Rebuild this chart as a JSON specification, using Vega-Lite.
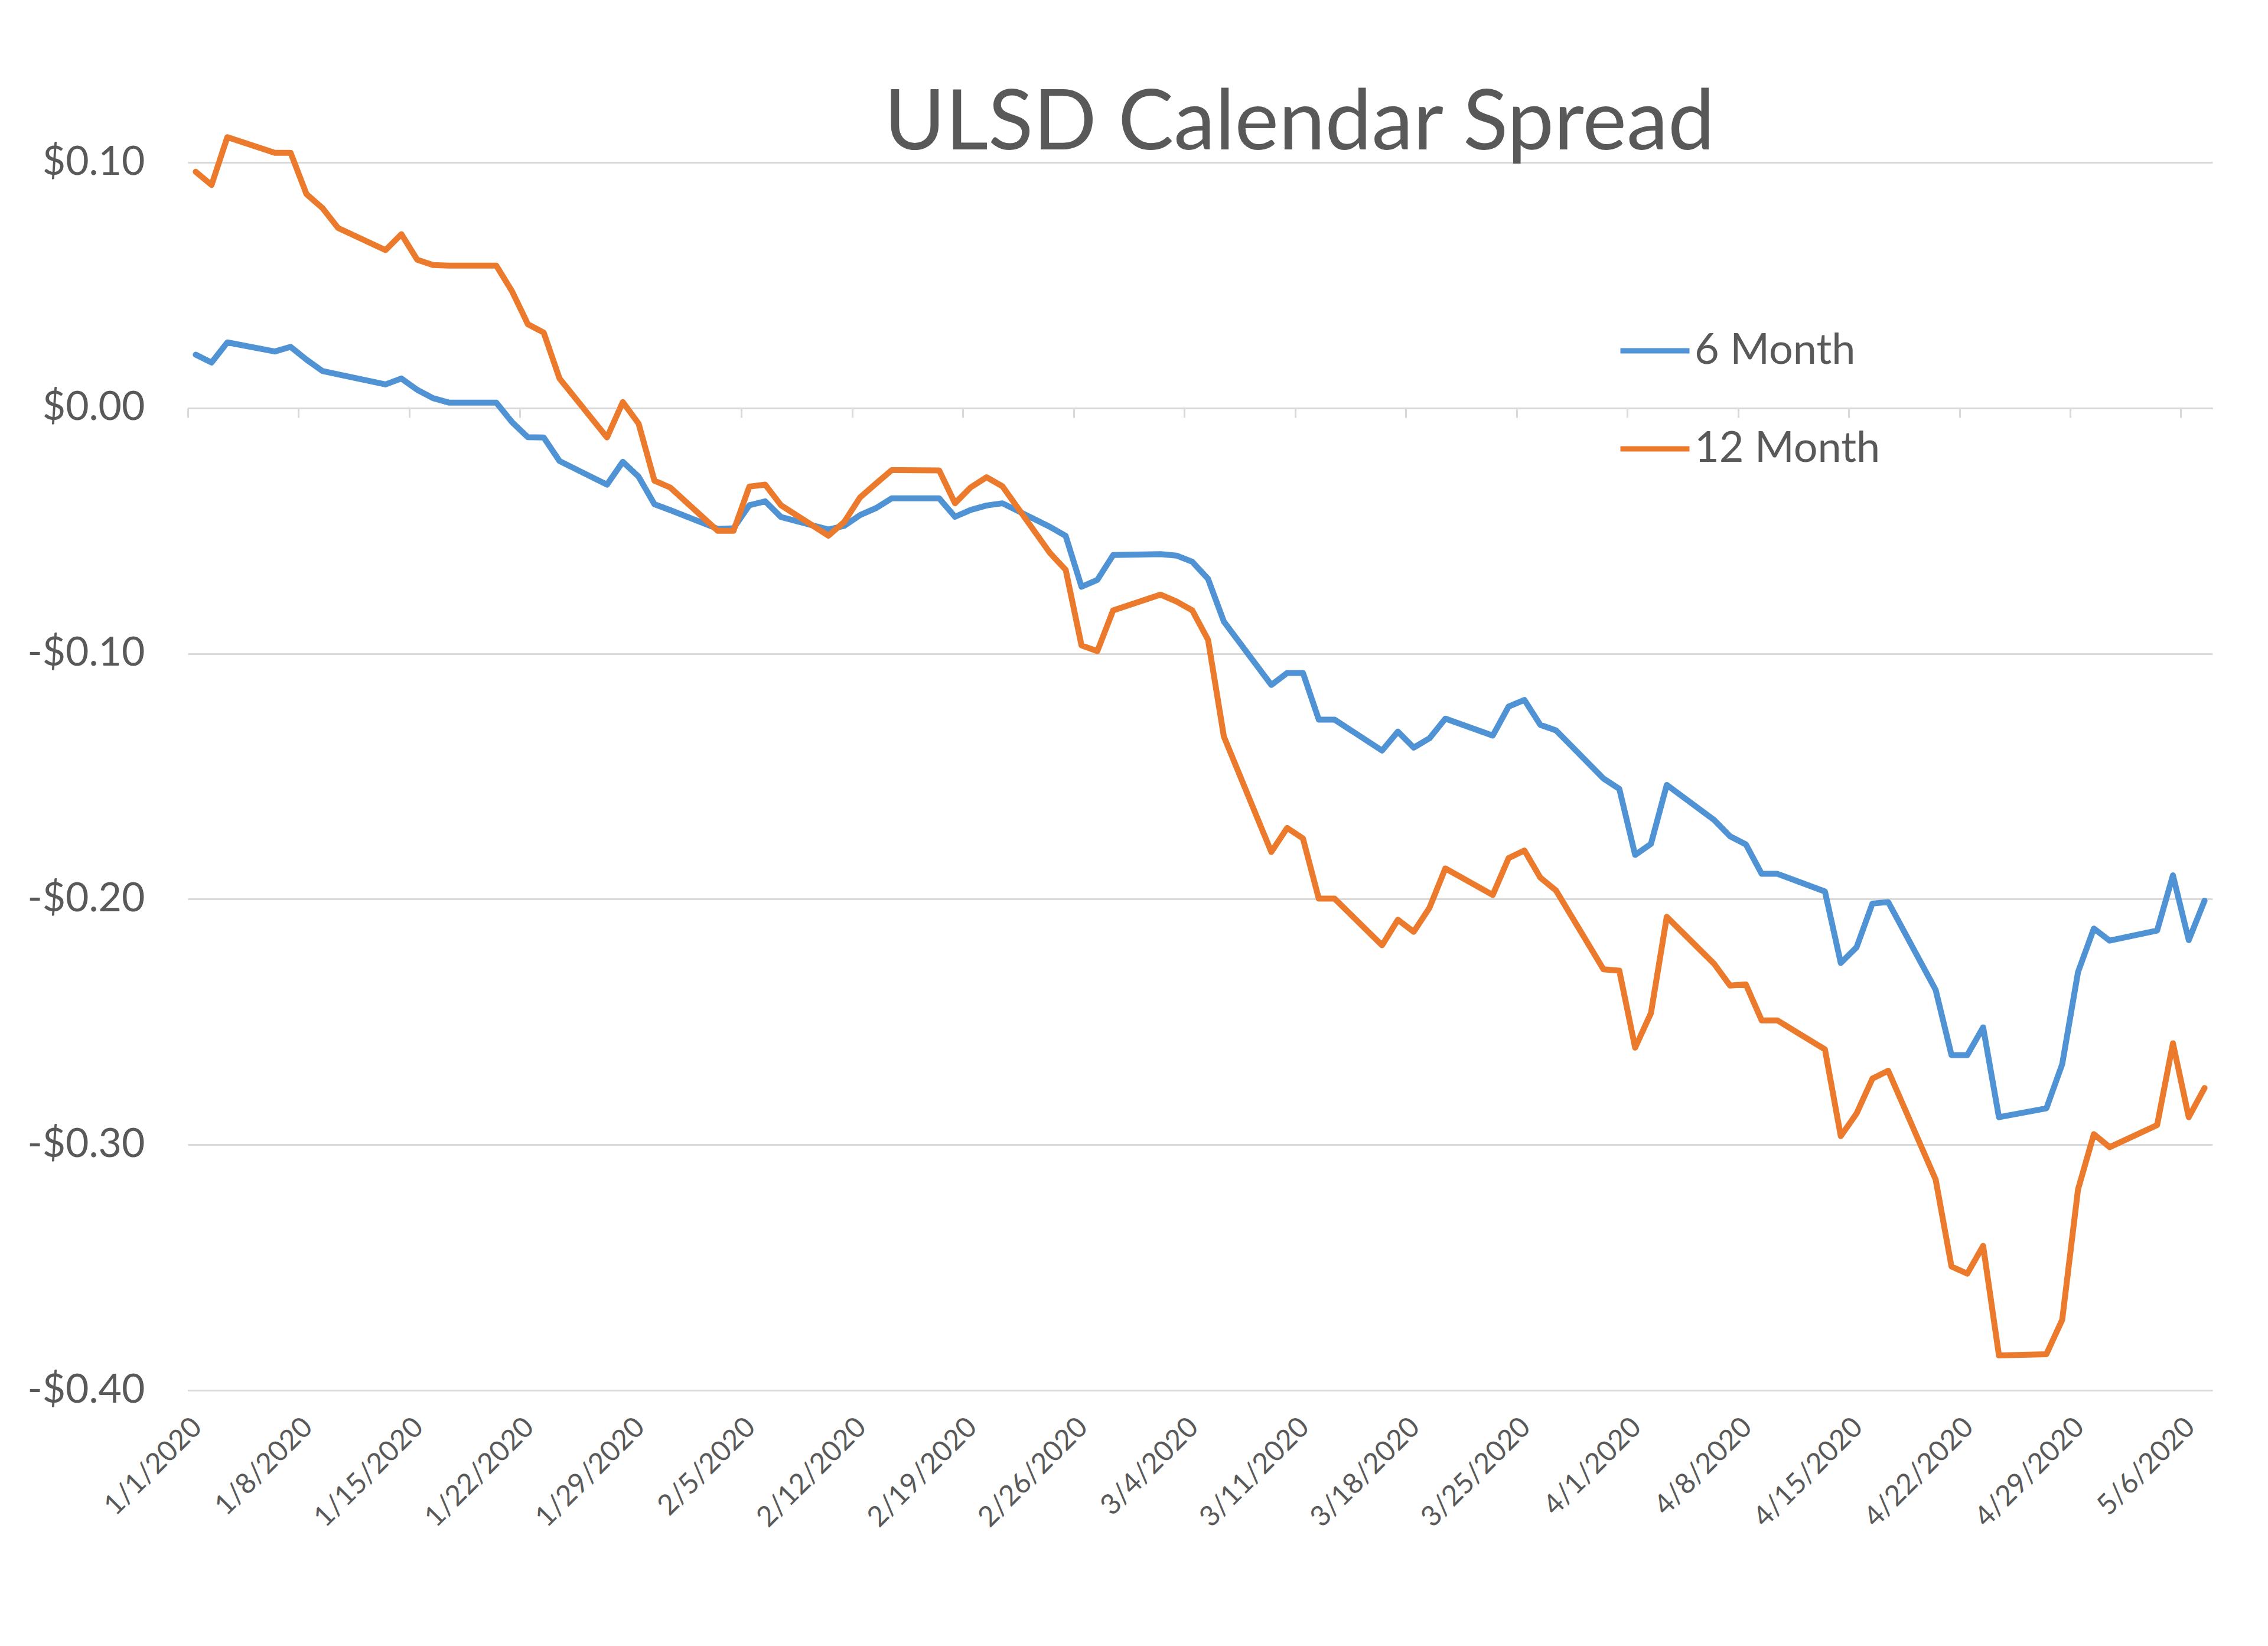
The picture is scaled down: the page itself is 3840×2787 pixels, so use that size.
{
  "$schema": "https://vega.github.io/schema/vega-lite/v6.json",
  "width": 3428,
  "height": 2079,
  "autosize": {"type": "none"},
  "padding": {"left": 318, "top": 275, "right": 94, "bottom": 433},
  "background": "white",
  "config": {"view": {"stroke": null}, "font": "Lato"},
  "title": {"text": "ULSD Calendar Spread", "font": "Lato", "fontSize": 141, "fontWeight": "normal", "color": "#595959", "anchor": "middle", "frame": "group", "dx": 168, "dy": 56, "offset": 0},
  "data": {"values": [
    {"date": "2020-01-01", "6 Month": 0.0217, "12 Month": 0.0962},
    {"date": "2020-01-02", "6 Month": 0.0185, "12 Month": 0.0908},
    {"date": "2020-01-03", "6 Month": 0.0267, "12 Month": 0.1103},
    {"date": "2020-01-06", "6 Month": 0.0230, "12 Month": 0.1039},
    {"date": "2020-01-07", "6 Month": 0.0249, "12 Month": 0.1039},
    {"date": "2020-01-08", "6 Month": 0.0197, "12 Month": 0.0871},
    {"date": "2020-01-09", "6 Month": 0.0151, "12 Month": 0.0815},
    {"date": "2020-01-10", "6 Month": 0.0137, "12 Month": 0.0733},
    {"date": "2020-01-13", "6 Month": 0.0096, "12 Month": 0.0643},
    {"date": "2020-01-14", "6 Month": 0.0120, "12 Month": 0.0708},
    {"date": "2020-01-15", "6 Month": 0.0074, "12 Month": 0.0604},
    {"date": "2020-01-16", "6 Month": 0.0040, "12 Month": 0.0582},
    {"date": "2020-01-17", "6 Month": 0.0022, "12 Month": 0.0580},
    {"date": "2020-01-20", "6 Month": 0.0022, "12 Month": 0.0580},
    {"date": "2020-01-21", "6 Month": -0.0058, "12 Month": 0.0475},
    {"date": "2020-01-22", "6 Month": -0.0119, "12 Month": 0.0341},
    {"date": "2020-01-23", "6 Month": -0.0120, "12 Month": 0.0307},
    {"date": "2020-01-24", "6 Month": -0.0216, "12 Month": 0.0120},
    {"date": "2020-01-27", "6 Month": -0.0312, "12 Month": -0.0120},
    {"date": "2020-01-28", "6 Month": -0.0219, "12 Month": 0.0024},
    {"date": "2020-01-29", "6 Month": -0.0280, "12 Month": -0.0064},
    {"date": "2020-01-30", "6 Month": -0.0392, "12 Month": -0.0296},
    {"date": "2020-01-31", "6 Month": -0.0416, "12 Month": -0.0324},
    {"date": "2020-02-03", "6 Month": -0.0492, "12 Month": -0.0500},
    {"date": "2020-02-04", "6 Month": -0.0490, "12 Month": -0.0500},
    {"date": "2020-02-05", "6 Month": -0.0396, "12 Month": -0.0320},
    {"date": "2020-02-06", "6 Month": -0.0380, "12 Month": -0.0312},
    {"date": "2020-02-07", "6 Month": -0.0444, "12 Month": -0.0396},
    {"date": "2020-02-10", "6 Month": -0.0495, "12 Month": -0.0520},
    {"date": "2020-02-11", "6 Month": -0.0480, "12 Month": -0.0464},
    {"date": "2020-02-12", "6 Month": -0.0436, "12 Month": -0.0364},
    {"date": "2020-02-13", "6 Month": -0.0408, "12 Month": -0.0308},
    {"date": "2020-02-14", "6 Month": -0.0368, "12 Month": -0.0253},
    {"date": "2020-02-17", "6 Month": -0.0368, "12 Month": -0.0254},
    {"date": "2020-02-18", "6 Month": -0.0443, "12 Month": -0.0388},
    {"date": "2020-02-19", "6 Month": -0.0415, "12 Month": -0.0323},
    {"date": "2020-02-20", "6 Month": -0.0397, "12 Month": -0.0282},
    {"date": "2020-02-21", "6 Month": -0.0388, "12 Month": -0.0319},
    {"date": "2020-02-24", "6 Month": -0.0484, "12 Month": -0.0590},
    {"date": "2020-02-25", "6 Month": -0.0521, "12 Month": -0.0659},
    {"date": "2020-02-26", "6 Month": -0.0728, "12 Month": -0.0967},
    {"date": "2020-02-27", "6 Month": -0.0700, "12 Month": -0.0990},
    {"date": "2020-02-28", "6 Month": -0.0599, "12 Month": -0.0824},
    {"date": "2020-03-02", "6 Month": -0.0595, "12 Month": -0.0760},
    {"date": "2020-03-03", "6 Month": -0.0601, "12 Month": -0.0788},
    {"date": "2020-03-04", "6 Month": -0.0626, "12 Month": -0.0824},
    {"date": "2020-03-05", "6 Month": -0.0696, "12 Month": -0.0944},
    {"date": "2020-03-06", "6 Month": -0.0870, "12 Month": -0.1338},
    {"date": "2020-03-09", "6 Month": -0.1128, "12 Month": -0.1808},
    {"date": "2020-03-10", "6 Month": -0.1079, "12 Month": -0.1710},
    {"date": "2020-03-11", "6 Month": -0.1079, "12 Month": -0.1753},
    {"date": "2020-03-12", "6 Month": -0.1269, "12 Month": -0.1998},
    {"date": "2020-03-13", "6 Month": -0.1269, "12 Month": -0.1998},
    {"date": "2020-03-16", "6 Month": -0.1395, "12 Month": -0.2188},
    {"date": "2020-03-17", "6 Month": -0.1318, "12 Month": -0.2084},
    {"date": "2020-03-18", "6 Month": -0.1383, "12 Month": -0.2133},
    {"date": "2020-03-19", "6 Month": -0.1345, "12 Month": -0.2035},
    {"date": "2020-03-20", "6 Month": -0.1265, "12 Month": -0.1875},
    {"date": "2020-03-23", "6 Month": -0.1334, "12 Month": -0.1983},
    {"date": "2020-03-24", "6 Month": -0.1216, "12 Month": -0.1833},
    {"date": "2020-03-25", "6 Month": -0.1189, "12 Month": -0.1802},
    {"date": "2020-03-26", "6 Month": -0.1290, "12 Month": -0.1912},
    {"date": "2020-03-27", "6 Month": -0.1313, "12 Month": -0.1965},
    {"date": "2020-03-30", "6 Month": -0.1509, "12 Month": -0.2286},
    {"date": "2020-03-31", "6 Month": -0.1551, "12 Month": -0.2291},
    {"date": "2020-04-01", "6 Month": -0.1820, "12 Month": -0.2605},
    {"date": "2020-04-02", "6 Month": -0.1775, "12 Month": -0.2464},
    {"date": "2020-04-03", "6 Month": -0.1535, "12 Month": -0.2072},
    {"date": "2020-04-06", "6 Month": -0.1678, "12 Month": -0.2264},
    {"date": "2020-04-07", "6 Month": -0.1744, "12 Month": -0.2352},
    {"date": "2020-04-08", "6 Month": -0.1777, "12 Month": -0.2347},
    {"date": "2020-04-09", "6 Month": -0.1897, "12 Month": -0.2494},
    {"date": "2020-04-10", "6 Month": -0.1897, "12 Month": -0.2494},
    {"date": "2020-04-13", "6 Month": -0.1969, "12 Month": -0.2612},
    {"date": "2020-04-14", "6 Month": -0.2260, "12 Month": -0.2965},
    {"date": "2020-04-15", "6 Month": -0.2196, "12 Month": -0.2873},
    {"date": "2020-04-16", "6 Month": -0.2018, "12 Month": -0.2731},
    {"date": "2020-04-17", "6 Month": -0.2012, "12 Month": -0.2699},
    {"date": "2020-04-20", "6 Month": -0.2370, "12 Month": -0.3142},
    {"date": "2020-04-21", "6 Month": -0.2635, "12 Month": -0.3496},
    {"date": "2020-04-22", "6 Month": -0.2635, "12 Month": -0.3525},
    {"date": "2020-04-23", "6 Month": -0.2522, "12 Month": -0.3412},
    {"date": "2020-04-24", "6 Month": -0.2888, "12 Month": -0.3858},
    {"date": "2020-04-27", "6 Month": -0.2852, "12 Month": -0.3853},
    {"date": "2020-04-28", "6 Month": -0.2672, "12 Month": -0.3713},
    {"date": "2020-04-29", "6 Month": -0.2297, "12 Month": -0.3182},
    {"date": "2020-04-30", "6 Month": -0.2120, "12 Month": -0.2957},
    {"date": "2020-05-01", "6 Month": -0.2169, "12 Month": -0.3010},
    {"date": "2020-05-04", "6 Month": -0.2128, "12 Month": -0.2920},
    {"date": "2020-05-05", "6 Month": -0.1903, "12 Month": -0.2587},
    {"date": "2020-05-06", "6 Month": -0.2167, "12 Month": -0.2888},
    {"date": "2020-05-07", "6 Month": -0.2006, "12 Month": -0.2769}
  ]},
  "transform": [{"fold": ["6 Month", "12 Month"], "as": ["series", "value"]}],
  "mark": {"type": "line", "strokeWidth": 10, "strokeCap": "round", "strokeJoin": "round"},
  "encoding": {
    "x": {
      "field": "date", "type": "temporal", "timeUnit": "utcyearmonthdate", "bandPosition": 0.5,
      "scale": {"domain": [{"year": 2020, "month": 1, "date": 1, "utc": true}, {"year": 2020, "month": 5, "date": 8, "utc": true}]},
      "axis": {
        "title": null,
        "values": [
          {"year": 2020, "month": 1, "date": 1, "utc": true},
          {"year": 2020, "month": 1, "date": 8, "utc": true},
          {"year": 2020, "month": 1, "date": 15, "utc": true},
          {"year": 2020, "month": 1, "date": 22, "utc": true},
          {"year": 2020, "month": 1, "date": 29, "utc": true},
          {"year": 2020, "month": 2, "date": 5, "utc": true},
          {"year": 2020, "month": 2, "date": 12, "utc": true},
          {"year": 2020, "month": 2, "date": 19, "utc": true},
          {"year": 2020, "month": 2, "date": 26, "utc": true},
          {"year": 2020, "month": 3, "date": 4, "utc": true},
          {"year": 2020, "month": 3, "date": 11, "utc": true},
          {"year": 2020, "month": 3, "date": 18, "utc": true},
          {"year": 2020, "month": 3, "date": 25, "utc": true},
          {"year": 2020, "month": 4, "date": 1, "utc": true},
          {"year": 2020, "month": 4, "date": 8, "utc": true},
          {"year": 2020, "month": 4, "date": 15, "utc": true},
          {"year": 2020, "month": 4, "date": 22, "utc": true},
          {"year": 2020, "month": 4, "date": 29, "utc": true},
          {"year": 2020, "month": 5, "date": 6, "utc": true}
        ],
        "labelExpr": "utcFormat(datum.value, '%-m/%-d/%Y')",
        "labelAngle": -45, "labelAlign": "right", "labelBaseline": "middle",
        "labelFont": "Lato", "labelFontSize": 48, "labelColor": "#595959", "labelLimit": 0,
        "labelOverlap": false, "labelFlush": false, "labelBound": false,
        "offset": -1663, "domainColor": "#d9d9d9", "domainWidth": 3,
        "tickColor": "#d9d9d9", "tickWidth": 3, "tickSize": 16,
        "labelPadding": 1702, "labelOffset": 16, "grid": false
      }
    },
    "y": {
      "field": "value", "type": "quantitative",
      "scale": {"domain": [-0.4, 0.1], "nice": false, "zero": false},
      "axis": {
        "title": null, "values": [-0.4, -0.3, -0.2, -0.1, 0, 0.1],
        "labelExpr": "(datum.value < 0 ? '-' : '') + '$' + format(abs(datum.value), '.2f')",
        "labelFont": "Lato", "labelFontSize": 68, "labelColor": "#595959", "labelPadding": 73, "labelLimit": 0,
        "domain": false, "ticks": false, "grid": true, "gridColor": "#d9d9d9", "gridWidth": 3
      }
    },
    "color": {
      "field": "series", "type": "nominal",
      "scale": {"domain": ["6 Month", "12 Month"], "range": ["#4F93D4", "#EC7A2C"]},
      "legend": {
        "orient": "none", "legendX": 2421, "legendY": 256, "title": null,
        "symbolType": "stroke", "symbolSize": 13689, "symbolStrokeWidth": 9,
        "labelFont": "Lato", "labelFontSize": 72, "labelColor": "#595959", "labelLimit": 0,
        "rowPadding": 67, "labelOffset": 4, "direction": "vertical"
      }
    }
  }
}
